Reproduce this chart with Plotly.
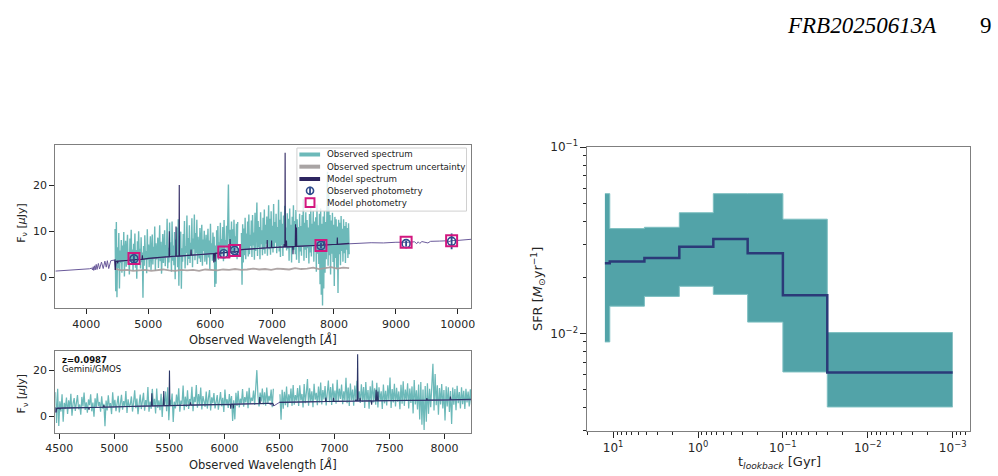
import numpy as np
import plotly.graph_objects as go

OFF = 0
FW, FH = 998, 476

# ---------------- data: observed spectrum (Gemini/GMOS), 10 A grid ----------------
spec_start, spec_step = 4465, 10
spec_flux = [
    10.5, -3.0, 12.0, -4.3, 6.5, 2.0, 9.6, -2.4, 5.8, 3.1,
    8.1, 1.0, 6.9, 3.4, 9.8, 0.2, 5.6, 7.9, 2.3, 6.4,
    9.2, 3.0, 5.1, 0.6, 8.4, 4.2, 10.3, 2.7, 6.0, 1.5,
    7.3, 4.8, 9.5, 2.1, 5.9, -0.3, 7.8, 3.6, 10.0, 4.4,
    6.2, 1.9, 8.7, 3.3, 5.4, -4.4, 6.8, 2.5, 9.1, 4.0,
    5.7, 0.9, 10.4, 3.8, 7.1, 2.2, 6.3, 8.9, 1.6, 5.5,
    9.3, 2.8, 6.6, 4.1, 11.0, 1.4, 7.4, 3.9, 5.2, 8.6,
    2.0, 6.1, 11.3, 3.5, 7.7, 0.8, 5.9, 9.4, 3.1, 6.7,
    10.2, 2.4, 7.0, 4.5, 12.7, 1.9, 6.4, 3.2, 11.9, 4.8,
    7.6, 1.2, 12.1, 3.6, 6.9, 2.6, 9.8, -0.4, 8.2, 5.0,
    10.8, 2.2, 12.6, -1.8, 7.2, 4.6, 9.9, -2.5, 6.3, 3.4,
    9.4, 4.7, 12.2, 1.9, 6.8, 5.3, 13.4, 2.6, 8.5, 4.0,
    11.3, 3.1, 7.5, 5.6, 12.8, 2.2, 8.4, 6.1, 13.6, 3.7,
    9.6, 5.2, 12.5, 2.9, 8.8, 6.4, 4.1, 10.7, 3.3, 7.9,
    11.4, 2.5, 8.2, 5.7, 10.1, 3.4, 6.6, 9.2, 2.8, 7.3,
    10.5, 4.3, 8.0, 1.8, 11.6, 5.0, 7.4, 3.6, 9.7, 4.9,
    8.8, -2.1, 6.9, -1.4, 10.2, 4.4, 11.1, 3.8, 7.6, 5.5,
    11.8, 4.1, 8.3, 6.0, 10.9, 3.5, 12.4, 5.3, 8.1, 6.6,
    11.2, 4.9, 12.6, 20.1, 9.0, 4.2, 10.3, 6.4, 12.1, 5.1,
    10.4, 4.6, 12.5, 5.8, 8.9, 6.7, 11.6, 3.9, 12.0, None,
    None, None, None, None, 9.6, -1.6, 11.5, 3.2, 10.6, 4.8,
    12.9, 3.9, 9.5, 6.2, 12.1, 4.5, 13.6, 5.0, 9.2, 6.8,
    12.3, 4.4, 13.5, 6.9, 9.7, 3.8, 14.0, 5.7, 10.4, 16.2,
    4.6, 12.2, 6.5, 10.9, 3.9, 14.1, 7.2, 10.2, 4.8, 12.9,
    6.0, 14.7, 5.1, 11.4, 7.3, 13.2, 4.7, 10.8, 15.6, 6.1,
    12.7, 4.9, 14.3, 7.0, 11.2, 5.4, 15.9, 6.3, 12.0, 7.5,
    13.8, 5.2, 10.9, 6.8, 16.8, 5.6, 12.5, 4.4, 14.2, 6.9,
    11.6, 4.6, 13.4, 7.1, 15.5, 7.4, 10.8, 5.8, 13.9, 6.2,
    12.7, 3.6, 14.9, 6.5, 11.4, 3.2, 13.1, 5.9, 15.6, 6.0,
    12.2, 5.0, 14.6, 3.8, 12.6, 6.7, 10.9, 3.1, 13.8, 5.6,
    11.1, 4.7, 13.5, 6.6, 16.9, 3.6, 11.8, 6.0, 14.1, 4.2,
    12.4, 6.3, 10.8, 3.0, 13.7, 5.4, 15.2, 4.5, 11.6, 6.7,
    14.4, 3.4, 12.1, 5.8, 13.0, 1.2, 15.8, 5.1, 11.3, 2.9,
    13.8, -1.5, 14.9, -3.8, 11.6, -6.1, 13.2, -2.4, 14.4, 1.0,
    12.0, 3.9, 14.8, 22.9, 2.5, 18.4, 4.8, 13.5, 0.6, 12.3,
    5.1, 14.0, 3.3, 11.4, -1.9, 13.1, 4.2, 12.6, 1.8, 11.0,
    -3.4, 12.5, 5.0, 11.8, 2.6, 13.3, 5.7, 10.5, 3.4, 12.6,
    5.2, 11.1, 3.1, 12.0, 6.0, 10.7, 4.2, 11.7, 5.0,
]
spec_wave = spec_start + spec_step * np.arange(len(spec_flux))

# observed spectrum uncertainty
unc_wave = np.linspace(4465, 8245, 40)
unc_flux = [1.9, 1.5, 1.6, 1.4, 1.5, 1.6, 1.4, 1.5, 1.7, 1.5,
            1.4, 1.6, 1.5, 1.6, 1.4, 1.7, 1.6, 1.5, 1.7, 1.6,
            1.8, 1.6, 1.7, 1.9, 1.7, 1.8, 1.6, 1.9, 1.8, 1.7,
            2.0, 1.8, 1.9, 2.1, 1.8, 2.0, 2.2, 1.9, 2.1, 2.0]

# full model spectrum (thin line)
model_full_wave = [3500, 3600, 3700, 3800, 3900, 4000, 4050, 4090, 4100, 4112, 4120, 4135,
                   4143, 4160, 4173, 4195, 4214, 4245, 4273, 4300, 4322, 4340, 4362, 4395,
                   4430, 4455, 4468, 4480, 4600, 5000, 5500, 6000, 6400, 6450, 6500, 7000,
                   7500, 8000, 8245, 8400, 8600, 8800, 8900, 9000, 9200, 9300, 9337, 9360,
                   9385, 9420, 9517, 9560, 9700, 9800, 9850, 9900, 10000, 10100, 10220]
model_full_flux = [1.35, 1.42, 1.5, 1.58, 1.66, 1.75, 1.85, 2.0, 1.6, 2.3, 1.5, 2.5,
                   1.6, 2.8, 1.7, 3.0, 1.8, 3.3, 1.9, 3.5, 2.2, 3.6, 1.9, 3.6,
                   3.7, 3.75, 1.6, 3.5, 3.6, 4.1, 4.6, 5.1, 5.6, 4.5, 6.0, 6.45,
                   6.8, 7.1, 7.35, 7.4, 7.5, 7.45, 7.55, 7.6, 7.6, 7.7, 7.3, 7.7,
                   7.35, 7.75, 7.45, 7.8, 7.85, 7.9, 7.7, 7.95, 8.0, 8.1, 8.25]

# model spectrum at the observed resolution (dark line)
model_obs_wave = [4464, 4470, 4476, 4500, 4507, 4512, 4600, 4700, 4764, 4769, 4775, 4900,
                  4905, 4910, 5000, 5200, 5336, 5341, 5346, 5445, 5449, 5453, 5497, 5501,
                  5505, 5600, 5686, 5692, 5698, 5800, 6000, 6055, 6058, 6062, 6078, 6081,
                  6085, 6200, 6318, 6322, 6326, 6440, 6450, 6470,
                  6500, 6700, 6900, 6918, 6922, 6926, 6988, 6992, 6996, 7190, 7195, 7199,
                  7207, 7211, 7215, 7229, 7233, 7237, 7334, 7338, 7342, 7374, 7379, 7384,
                  7391, 7395, 7399, 7600, 7836, 7840, 7844, 8050, 8054, 8058, 8245]
model_obs_flux = [3.9, 1.6, 3.4, 3.5, 3.0, 3.5, 3.6, 3.7, 3.8, 2.8, 3.8, 3.9,
                  4.8, 3.9, 4.1, 4.3, 4.5, 10.0, 4.5, 4.6, 11.0, 4.6, 4.6, 20.0,
                  4.6, 4.7, 4.8, 6.0, 4.8, 4.9, 5.1, 5.15, 3.2, 5.15, 5.15, 3.4,
                  5.2, 5.3, 5.45, 8.3, 5.45, 5.6, 4.5, None,
                  6.0, 6.2, 6.35, 6.4, 8.1, 6.4, 6.45, 8.0, 6.45, 6.6, 7.2, 6.6,
                  6.6, 27.0, 6.6, 6.6, 8.0, 6.6, 6.65, 5.0, 6.65, 6.7, 11.5, 6.7,
                  6.7, 10.8, 6.7, 6.85, 7.0, 7.9, 7.0, 7.15, 8.6, 7.15, 7.35]

# photometry
phot_wave = [4770, 6220, 6395, 7790, 9165, 9900]
phot_obs = [4.0, 5.1, 5.8, 6.9, 7.3, 7.8]
phot_err = [0.6, 0.6, 0.6, 0.6, 0.6, 1.7]
phot_model = [4.1, 5.5, 5.8, 6.9, 7.6, 7.9]

# ---------------- data: star formation history ----------------
sfh_edges = [12.5, 10.95, 4.28, 1.66, 0.66, 0.26, 0.1, 0.03, 0.001]   # lookback time [Gyr]
sfr_med = [0.0238, 0.0243, 0.0254, 0.0292, 0.0321, 0.0269, 0.0160, 0.00616]
sfr_lo = [0.0090, 0.0140, 0.0158, 0.0179, 0.0162, 0.0115, 0.00621, 0.00403]
sfr_hi = [0.0562, 0.0365, 0.0371, 0.0444, 0.0562, 0.0562, 0.0410, 0.0101]

top_xticks = [4000, 5000, 6000, 7000, 8000, 9000, 10000]
bot_xticks = [4500, 5000, 5500, 6000, 6500, 7000, 7500, 8000]
sfh_xticks = [10, 1, 0.1, 0.01, 0.001]
sfh_xtext = ["10<sup>1</sup>", "10<sup>0</sup>", "10<sup>−1</sup>", "10<sup>−2</sup>", "10<sup>−3</sup>"]
sfh_yticks = [0.01, 0.1]
sfh_ytext = ["10<sup>−2</sup>", "10<sup>−1</sup>"]

# ---------------- styling ----------------
TEAL = "#6cb9b9"
GRAY = "rgba(165,155,155,0.9)"
DARK = "#2d2560"
THIN = "#6a5a9a"
NAVY_PHOT = "#2e4b8c"
MAGENTA = "#d2177f"
BAND = "#52a3a8"
MED = "#2b3a78"
FONT = "DejaVu Sans"
TXT = "#262626"


def px(x):
    return (x - OFF) / FW


def py(y):
    return 1 - (y - OFF) / FH


fig = go.Figure()

# top panel
fig.add_trace(go.Scatter(x=spec_wave, y=spec_flux, mode="lines", line=dict(color=TEAL, width=1.4),
                         xaxis="x", yaxis="y"))
fig.add_trace(go.Scatter(x=unc_wave, y=unc_flux, mode="lines", line=dict(color=GRAY, width=1.8),
                         xaxis="x", yaxis="y"))
fig.add_trace(go.Scatter(x=model_full_wave, y=model_full_flux, mode="lines", line=dict(color=THIN, width=1),
                         xaxis="x", yaxis="y"))
fig.add_trace(go.Scatter(x=model_obs_wave, y=model_obs_flux, mode="lines", line=dict(color=DARK, width=1.1),
                         xaxis="x", yaxis="y"))
fig.add_trace(go.Scatter(x=phot_wave, y=phot_obs, mode="markers",
                         marker=dict(symbol="circle-open", size=8, color=NAVY_PHOT, line=dict(width=1.6)),
                         error_y=dict(type="data", array=phot_err, color=NAVY_PHOT, thickness=1.8, width=0),
                         xaxis="x", yaxis="y"))
fig.add_trace(go.Scatter(x=phot_wave, y=phot_model, mode="markers",
                         marker=dict(symbol="square-open", size=11, color=MAGENTA, line=dict(width=2)),
                         xaxis="x", yaxis="y"))

# bottom panel
fig.add_trace(go.Scatter(x=spec_wave, y=spec_flux, mode="lines", line=dict(color=TEAL, width=1.25),
                         xaxis="x2", yaxis="y2"))
fig.add_trace(go.Scatter(x=model_full_wave, y=model_full_flux, mode="lines", line=dict(color=THIN, width=1),
                         xaxis="x2", yaxis="y2"))
fig.add_trace(go.Scatter(x=model_obs_wave, y=model_obs_flux, mode="lines", line=dict(color="#2b3566", width=1.1),
                         xaxis="x2", yaxis="y2"))

# SFH panel
hx = sfh_edges
hlo = sfr_lo + [sfr_lo[-1]]
hhi = sfr_hi + [sfr_hi[-1]]
hmed = sfr_med + [sfr_med[-1]]
fig.add_trace(go.Scatter(x=hx, y=hlo, mode="lines", line=dict(color="#7dbfc1", width=1, shape="hv"),
                         xaxis="x3", yaxis="y3"))
fig.add_trace(go.Scatter(x=hx, y=hhi, mode="lines", line=dict(color="#7dbfc1", width=1, shape="hv"),
                         fill="tonexty", fillcolor=BAND, xaxis="x3", yaxis="y3"))
fig.add_trace(go.Scatter(x=hx, y=hmed, mode="lines", line=dict(color=MED, width=2.5, shape="hv"),
                         xaxis="x3", yaxis="y3"))

axis_common = dict(showline=True, mirror=True, linecolor="#7f7f7f", linewidth=1.2,
                   ticks="outside", ticklen=5, tickwidth=1.3, tickcolor="#262626",
                   showgrid=False, zeroline=False, tickfont=dict(family=FONT, size=11, color=TXT))

# log minor ticks
xminor = [k * 10.0 ** d for d in range(-4, 2) for k in range(2, 10)
          if 10 ** -3.2 <= k * 10.0 ** d <= 10 ** 1.302]
yminor = [k * 10.0 ** d for d in range(-3, -1) for k in range(2, 10)
          if 10 ** -2.523 <= k * 10.0 ** d <= 0.1]

fig.update_layout(
    width=FW, height=FH, margin=dict(l=0, r=0, t=0, b=0),
    paper_bgcolor="white", plot_bgcolor="white", showlegend=False,
    xaxis=dict(axis_common, domain=[px(46), px(468)], range=[3500, 10220], anchor="y",
               tickvals=top_xticks, ticktext=[str(v) for v in top_xticks]),
    yaxis=dict(axis_common, domain=[py(305), py(139)], range=[-6.7, 28.6], anchor="x",
               tickvals=[0, 10, 20]),
    xaxis2=dict(axis_common, domain=[px(46), px(468)], range=[4464, 8245], anchor="y2",
                tickvals=bot_xticks, ticktext=[str(v) for v in bot_xticks]),
    yaxis2=dict(axis_common, domain=[py(432), py(349)], range=[-7.3, 28.3], anchor="x2",
                tickvals=[0, 20]),
    xaxis3=dict(axis_common, type="log", domain=[px(585.7), px(973.3)], range=[1.302, -3.2], anchor="y3",
                tickvals=sfh_xticks, ticktext=sfh_xtext,
                tickfont=dict(family=FONT, size=12, color=TXT), ticklen=6,
                minor=dict(tickvals=xminor, ticks="outside", ticklen=3, tickwidth=1, tickcolor="#262626")),
    yaxis3=dict(axis_common, type="log", domain=[py(430), py(140.7)], range=[-2.523, -1], anchor="x3",
                tickvals=sfh_yticks, ticktext=sfh_ytext,
                tickfont=dict(family=FONT, size=12, color=TXT), ticklen=6,
                minor=dict(tickvals=yminor, ticks="outside", ticklen=3, tickwidth=1, tickcolor="#262626")),
)

ann = []


def text(x, y, s, size=10, xanchor="center", angle=0, family=FONT, color=TXT):
    ann.append(dict(x=px(x), y=py(y), xref="paper", yref="paper", text=s, showarrow=False,
                    xanchor=xanchor, yanchor="middle", textangle=angle,
                    font=dict(family=family, size=size, color=color)))


# axis titles
text(257, 336.5, "Observed Wavelength [<i>Å</i>]", size=11.5)
text(257, 464, "Observed Wavelength [<i>Å</i>]", size=11.5)
text(12, 218, "F<sub>ν</sub> [<i>μ</i>Jy]", size=11, angle=-90)
text(12, 392, "F<sub>ν</sub> [<i>μ</i>Jy]", size=11, angle=-90)
text(535, 285, "SFR [<i>M</i><sub>⊙</sub>yr<sup>−1</sup>]", size=13, angle=-90)
text(780, 462, "t<sub><i>lookback</i></sub> [Gyr]", size=13)

# panel note
text(51, 357.5, "<b>z=0.0987</b>", size=8.5, xanchor="left", color="#111")
text(51, 366.5, "Gemini/GMOS", size=8.5, xanchor="left", color="#111")

# page header
text(942, 17, "<i>FRB20250613A</i>", size=23, xanchor="right", family="Liberation Serif", color="#000")
text(990, 17, "9", size=23, xanchor="center", family="Liberation Serif", color="#000")

# manual legend
shapes = []
shapes.append(dict(type="rect", xref="paper", yref="paper", x0=px(291), x1=px(463), y0=py(206), y1=py(141.7),
                   line=dict(color="#d0d0d0", width=1), fillcolor="rgba(255,255,255,0.8)", layer="above"))
rows = [148.3, 160.7, 173.3, 185.3, 197.3]
labels = ["Observed spectrum", "Observed spectrum uncertainty", "Model spectrum",
          "Observed photometry", "Model photometry"]
for yy, c in zip(rows[:3], [TEAL, "#a9a4a4", DARK]):
    shapes.append(dict(type="line", xref="paper", yref="paper", x0=px(293.5), x1=px(314.5), y0=py(yy), y1=py(yy),
                       line=dict(color=c, width=4), layer="above"))
cx = 304.3
shapes.append(dict(type="circle", xref="paper", yref="paper", x0=px(cx - 3.6), x1=px(cx + 3.6),
                   y0=py(rows[3] + 3.6), y1=py(rows[3] - 3.6), line=dict(color=NAVY_PHOT, width=1.6), layer="above"))
shapes.append(dict(type="line", xref="paper", yref="paper", x0=px(cx), x1=px(cx),
                   y0=py(rows[3] + 4.2), y1=py(rows[3] - 4.2), line=dict(color=NAVY_PHOT, width=1.8), layer="above"))
shapes.append(dict(type="rect", xref="paper", yref="paper", x0=px(cx - 4.5), x1=px(cx + 4.5),
                   y0=py(rows[4] + 4.5), y1=py(rows[4] - 4.5), line=dict(color=MAGENTA, width=2), layer="above"))
for yy, lab in zip(rows, labels):
    text(319.3, yy, lab, size=8.7, xanchor="left", color="#222")

fig.update_layout(annotations=ann, shapes=shapes)
fig.write_html("out.html")
